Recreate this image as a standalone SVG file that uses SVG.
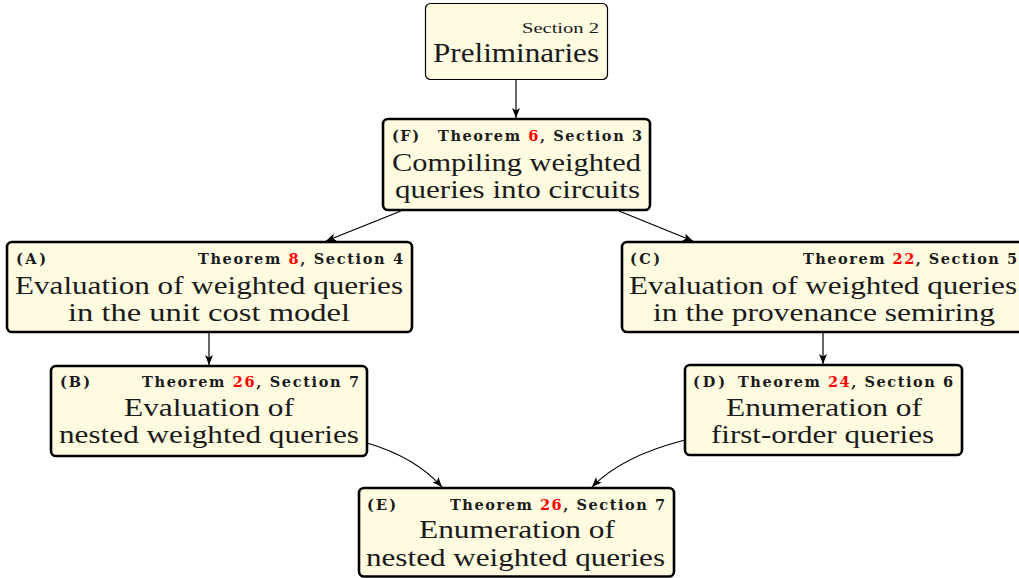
<svg xmlns="http://www.w3.org/2000/svg" width="1019" height="578" viewBox="0 0 1019 578">
<style>
.box{fill:#fefbe1;stroke:#000;stroke-width:2.6}
.thin{stroke-width:1.2}
.hd{font-family:"DejaVu Serif","Liberation Serif",serif;font-weight:bold;font-size:14.5px;fill:#1a1a1a}
.sm{font-family:"Liberation Serif","DejaVu Serif",serif;font-size:15px;fill:#1a1a1a}
.tx{font-family:"Liberation Serif","DejaVu Serif",serif;font-size:25px;fill:#1a1a1a}
.red{fill:#ff0000}
.edge{fill:none;stroke:#000;stroke-width:1.2}
</style>
<defs>
<marker id="arr" markerUnits="userSpaceOnUse" markerWidth="12" markerHeight="10" refX="10" refY="4" orient="auto">
<path d="M0,0 L10,4 L0,8 L2.5,4 z" fill="#000"/>
</marker>
</defs>
<g id="connectors">
<path class="edge" d="M516,80 L516,118" marker-end="url(#arr)"/>
<path class="edge" d="M401,211 L326,241" marker-end="url(#arr)"/>
<path class="edge" d="M619,211 L693,241" marker-end="url(#arr)"/>
<path class="edge" d="M209,332 L209,365" marker-end="url(#arr)"/>
<path class="edge" d="M823,332 L823,364" marker-end="url(#arr)"/>
<path class="edge" d="M367,443 Q415,457 442,487" marker-end="url(#arr)"/>
<path class="edge" d="M685,440 Q622,456 592,487" marker-end="url(#arr)"/>
</g>
<g id="prelim">
<rect class="box thin" x="425.5" y="3.5" width="182" height="76" rx="5"/>
<text class="sm" x="599" y="33" text-anchor="end" textLength="77" lengthAdjust="spacingAndGlyphs">Section 2</text>
<text class="tx" x="599" y="62" text-anchor="end" textLength="166" lengthAdjust="spacingAndGlyphs" style="font-size:27px">Preliminaries</text>
</g>
<g id="F">
<rect class="box" x="383" y="119" width="267" height="91" rx="5"/>
<text class="hd" x="392" y="141" textLength="27">(F)</text>
<text class="hd" x="642" y="141" text-anchor="end" textLength="204">Theorem <tspan class="red">6</tspan>, Section 3</text>
<text class="tx" x="392" y="171" textLength="249" lengthAdjust="spacingAndGlyphs">Compiling weighted</text>
<text class="tx" x="395" y="198" textLength="245" lengthAdjust="spacingAndGlyphs">queries into circuits</text>
</g>
<g id="A">
<rect class="box" x="7" y="242" width="405" height="90" rx="5"/>
<text class="hd" x="16" y="264" textLength="30">(A)</text>
<text class="hd" x="403" y="264" text-anchor="end" textLength="205">Theorem <tspan class="red">8</tspan>, Section 4</text>
<text class="tx" x="15" y="294" textLength="388" lengthAdjust="spacingAndGlyphs">Evaluation of weighted queries</text>
<text class="tx" x="68" y="321" textLength="282" lengthAdjust="spacingAndGlyphs">in the unit cost model</text>
</g>
<g id="B">
<rect class="box" x="51" y="366" width="316" height="90" rx="5"/>
<text class="hd" x="60" y="387" textLength="30">(B)</text>
<text class="hd" x="359" y="387" text-anchor="end" textLength="217">Theorem <tspan class="red">26</tspan>, Section 7</text>
<text class="tx" x="124" y="416" textLength="170" lengthAdjust="spacingAndGlyphs">Evaluation of</text>
<text class="tx" x="59" y="443" textLength="300" lengthAdjust="spacingAndGlyphs">nested weighted queries</text>
</g>
<g id="C">
<rect class="box" x="622" y="242" width="405" height="90" rx="5"/>
<text class="hd" x="630" y="264" textLength="30">(C)</text>
<text class="hd" x="1017" y="264" text-anchor="end" textLength="214">Theorem <tspan class="red">22</tspan>, Section 5</text>
<text class="tx" x="629" y="294" textLength="388" lengthAdjust="spacingAndGlyphs">Evaluation of weighted queries</text>
<text class="tx" x="653" y="321" textLength="342" lengthAdjust="spacingAndGlyphs">in the provenance semiring</text>
</g>
<g id="D">
<rect class="box" x="685" y="365" width="277" height="90" rx="5"/>
<text class="hd" x="693" y="387" textLength="32">(D)</text>
<text class="hd" x="953" y="387" text-anchor="end" textLength="215">Theorem <tspan class="red">24</tspan>, Section 6</text>
<text class="tx" x="726" y="416" textLength="196" lengthAdjust="spacingAndGlyphs">Enumeration of</text>
<text class="tx" x="711" y="443" textLength="223" lengthAdjust="spacingAndGlyphs">first-order queries</text>
</g>
<g id="E">
<rect class="box" x="359" y="488" width="315" height="88.5" rx="5"/>
<text class="hd" x="367" y="510" textLength="29">(E)</text>
<text class="hd" x="665" y="510" text-anchor="end" textLength="215">Theorem <tspan class="red">26</tspan>, Section 7</text>
<text class="tx" x="419" y="538" textLength="196" lengthAdjust="spacingAndGlyphs">Enumeration of</text>
<text class="tx" x="366" y="566" textLength="299" lengthAdjust="spacingAndGlyphs">nested weighted queries</text>
</g>
</svg>
